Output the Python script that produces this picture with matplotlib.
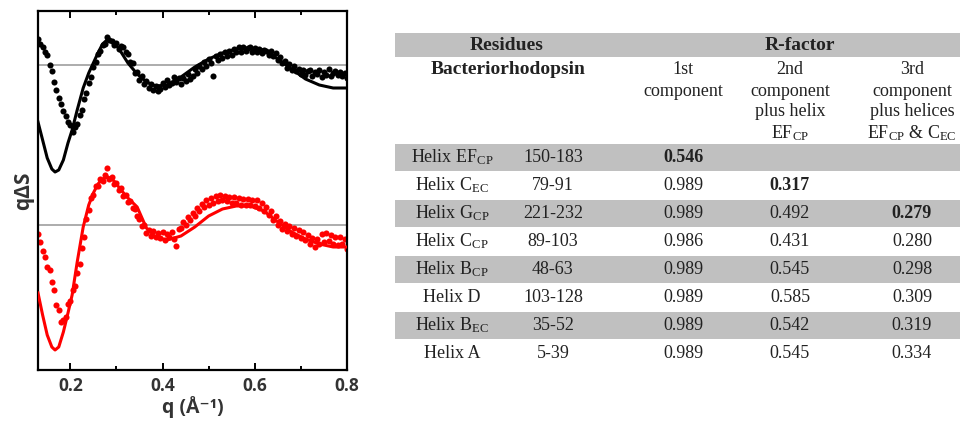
import matplotlib
matplotlib.use("Agg")
import matplotlib.pyplot as plt
from matplotlib.patches import Rectangle
import numpy as np

plt.rcParams['mathtext.fontset'] = 'custom'
plt.rcParams['mathtext.rm'] = 'Liberation Serif'
plt.rcParams['mathtext.it'] = 'Liberation Serif:italic'
plt.rcParams['mathtext.bf'] = 'Liberation Serif:bold'

# ---- curve data (qdS, arbitrary units, each relative to its own baseline) ----
q_pts = np.round(np.arange(0.13, 0.8001, 0.005), 3)

black_pts = [0.52, 0.42, 0.37, 0.27, 0.20, 0.01, -0.12, -0.33, -0.49, -0.66,
             -0.77, -0.92, -1.01, -1.14, -1.20, -1.33, -1.24, -1.18, -1.00, -0.90,
             -0.67, -0.56, -0.35, -0.24, -0.03, 0.06, 0.23, 0.28, 0.41, 0.42,
             0.55, 0.50, 0.49, 0.40, 0.45, 0.33, 0.39, 0.36, 0.26, 0.23,
             0.06, 0.04, -0.15, -0.14, -0.30, -0.22, -0.38, -0.31, -0.45, -0.37,
             -0.50, -0.41, -0.52, -0.47, -0.36, -0.43, -0.29, -0.39, -0.35, -0.24,
             -0.34, -0.26, -0.37, -0.25, -0.31, -0.17, -0.27, -0.21, -0.08, -0.15,
             -0.01, -0.07, 0.07, -0.01, 0.13, 0.05, -0.22, 0.18, 0.11, 0.23,
             0.15, 0.27, 0.18, 0.29, 0.21, 0.33, 0.26, 0.36, 0.27, 0.37,
             0.29, 0.35, 0.36, 0.26, 0.34, 0.27, 0.33, 0.24, 0.31, 0.29,
             0.21, 0.28, 0.18, 0.24, 0.11, 0.16, 0.04, 0.08, -0.05, 0.03,
             -0.09, -0.02, -0.12, -0.07, -0.17, -0.10, -0.19, -0.12, -0.09, -0.21,
             -0.13, -0.18, -0.10, -0.23, -0.14, -0.19, -0.08, -0.22, -0.15, -0.11,
             -0.20, -0.13, -0.21, -0.15, -0.25]

red_pts = [-0.18, -0.34, -0.52, -0.64, -0.84, -0.90, -1.14, -1.30, -1.60, -1.70,
           -1.94, -1.90, -1.84, -1.58, -1.52, -1.30, -1.22, -0.96, -0.78, -0.46,
           -0.24, 0.12, 0.30, 0.54, 0.60, 0.78, 0.78, 0.92, 0.88, 1.00,
           1.14, 0.92, 0.96, 0.82, 0.84, 0.70, 0.74, 0.58, 0.60, 0.46,
           0.48, 0.34, 0.33, 0.18, 0.13, -0.02, 0.00, -0.15, -0.09, -0.22,
           -0.12, -0.24, -0.15, -0.25, -0.14, -0.29, -0.17, -0.23, -0.13, -0.27,
           -0.42, -0.07, -0.05, 0.06, 0.01, 0.17, 0.11, 0.25, 0.18, 0.35,
           0.28, 0.43, 0.36, 0.50, 0.41, 0.55, 0.44, 0.58, 0.49, 0.61,
           0.50, 0.59, 0.48, 0.57, 0.45, 0.56, 0.44, 0.54, 0.41, 0.53,
           0.40, 0.52, 0.41, 0.51, 0.38, 0.50, 0.35, 0.45, 0.29, 0.37,
           0.21, 0.29, 0.10, 0.19, 0.00, 0.09, -0.08, 0.03, -0.12, -0.01,
           -0.17, -0.05, -0.21, -0.09, -0.25, -0.13, -0.30, -0.19, -0.37, -0.25,
           -0.43, -0.27, -0.38, -0.17, -0.33, -0.15, -0.31, -0.19, -0.37, -0.23,
           -0.39, -0.23, -0.37, -0.27, -0.47]

q_fit = [0.13, 0.14, 0.15, 0.16, 0.167, 0.175, 0.185, 0.195, 0.204, 0.215,
         0.228, 0.24, 0.25, 0.26, 0.27, 0.282, 0.295, 0.31, 0.325, 0.345,
         0.365, 0.385, 0.41, 0.44, 0.47, 0.50, 0.53, 0.56, 0.59, 0.62,
         0.65, 0.68, 0.71, 0.74, 0.77, 0.80]
black_fit = [-1.14, -1.50, -1.86, -2.08, -2.14, -2.10, -1.90, -1.56, -1.30, -0.90,
             -0.46, -0.16, 0.04, 0.24, 0.42, 0.52, 0.46, 0.26, 0.04, -0.18,
             -0.34, -0.42, -0.40, -0.24, -0.04, 0.12, 0.24, 0.32, 0.34, 0.30,
             0.12, -0.08, -0.28, -0.40, -0.46, -0.46]
red_fit = [-1.36, -1.80, -2.20, -2.44, -2.50, -2.44, -2.14, -1.76, -1.40, -0.74,
           -0.04, 0.40, 0.64, 0.82, 0.92, 0.96, 0.88, 0.70, 0.54, 0.36,
           -0.06, -0.24, -0.30, -0.22, -0.04, 0.18, 0.32, 0.38, 0.38, 0.28,
           0.06, -0.14, -0.28, -0.38, -0.44, -0.44]
red_shift = -3.2

# ---- table data ----
helix_names = [r'Helix EF$_{\mathrm{CP}}$', r'Helix C$_{\mathrm{EC}}$', r'Helix G$_{\mathrm{CP}}$',
               r'Helix C$_{\mathrm{CP}}$', r'Helix B$_{\mathrm{CP}}$', 'Helix D',
               r'Helix B$_{\mathrm{EC}}$', 'Helix A']
residues = ['150-183', '79-91', '221-232', '89-103', '48-63', '103-128', '35-52', '5-39']
r_1st = ['0.546', '0.989', '0.989', '0.986', '0.989', '0.989', '0.989', '0.989']
r_2nd = ['', '0.317', '0.492', '0.431', '0.545', '0.585', '0.542', '0.545']
r_3rd = ['', '', '0.279', '0.280', '0.298', '0.309', '0.319', '0.334']
best_row = [0, 1, 2]   # bold entry in each R-factor column

fig = plt.figure(figsize=(9.6, 4.23), dpi=100)

# ---------------- left plot ----------------
W, H = 960.0, 423.0
ax = fig.add_axes([38 / W, (H - 370) / H, 309 / W, 359 / H])
ax.axhline(0, color='#a6a6a6', lw=1.3, zorder=1)
ax.axhline(red_shift, color='#a6a6a6', lw=1.3, zorder=1)
ax.plot(q_pts, black_pts, 'o', color='black', ms=4.4, mew=0, zorder=2)
ax.plot(q_fit, black_fit, '-', color='black', lw=2.2, zorder=3)
ax.plot(q_pts, np.array(red_pts) + red_shift, 'o', color='#ff0000', ms=4.4, mew=0, zorder=2)
ax.plot(q_fit, np.array(red_fit) + red_shift, '-', color='#ff0000', lw=2.2, zorder=3)

ax.set_xlim(0.13, 0.8)
ax.set_ylim(-6.1, 1.08)
ax.set_yticks([])
ax.set_xticks([0.2, 0.4, 0.6, 0.8])
ax.set_xticks([0.3, 0.5, 0.7], minor=True)
ax.set_xticklabels(['0.2', '0.4', '0.6', '0.8'], fontsize=12.5, fontweight='bold',
                   color='#333333', family='Open Sans')
ax.tick_params(axis='x', which='both', direction='in', top=True, width=1.4, pad=5)
ax.tick_params(axis='x', which='major', length=5)
ax.tick_params(axis='x', which='minor', length=3)
for s in ax.spines.values():
    s.set_linewidth(1.6)
ax.set_xlabel('q (Å⁻¹)', fontsize=14, fontweight='bold', color='#333333',
              family=['Open Sans', 'DejaVu Sans'], labelpad=1)
ax.set_ylabel('qΔS', fontsize=15, fontweight='bold', color='#333333',
              family=['Open Sans', 'DejaVu Sans'], labelpad=3)

# ---------------- right table ----------------
tax = fig.add_axes([0, 0, 1, 1])
tax.set_xlim(0, W)
tax.set_ylim(H, 0)
tax.axis('off')

gray = '#c0c0c0'
txt = '#222222'
serif = 'Liberation Serif'
x0, x1 = 395, 960
col_x = [452, 553, 683, 790, 912]
fs = 13
fs_head = 14

tax.add_patch(Rectangle((x0, 33), x1 - x0, 24, color=gray, lw=0))
tax.text(507, 45, 'Residues', ha='center', va='center', fontsize=fs_head, fontweight='bold',
         family=serif, color=txt)
tax.text(800, 45, 'R-factor', ha='center', va='center', fontsize=fs_head, fontweight='bold',
         family=serif, color=txt)
tax.text(508, 70, 'Bacteriorhodopsin', ha='center', va='center', fontsize=fs_head,
         fontweight='bold', family=serif, color=txt)

head_1st = ['1st', 'component']
head_2nd = ['2nd', 'component', 'plus helix', r'EF$_{\mathrm{CP}}$']
head_3rd = ['3rd', 'component', 'plus helices', r'EF$_{\mathrm{CP}}$ & C$_{\mathrm{EC}}$']
for cx, lines in zip(col_x[2:], [head_1st, head_2nd, head_3rd]):
    for k, s in enumerate(lines):
        tax.text(cx, 70 + 21 * k, s, ha='center', va='center', fontsize=fs,
                 family=serif, color=txt)

row_y0, pitch = 157, 28
for i in range(len(helix_names)):
    y = row_y0 + pitch * i
    if i % 2 == 0:
        tax.add_patch(Rectangle((x0, y - 13), x1 - x0, 27, color=gray, lw=0))
    cells = [helix_names[i], residues[i], r_1st[i], r_2nd[i], r_3rd[i]]
    for j, (cx, s) in enumerate(zip(col_x, cells)):
        bold = j >= 2 and best_row[j - 2] == i
        tax.text(cx, y, s, ha='center', va='center', fontsize=fs,
                 fontweight='bold' if bold else 'normal', family=serif, color=txt)

fig.savefig('out.png', dpi=100)
